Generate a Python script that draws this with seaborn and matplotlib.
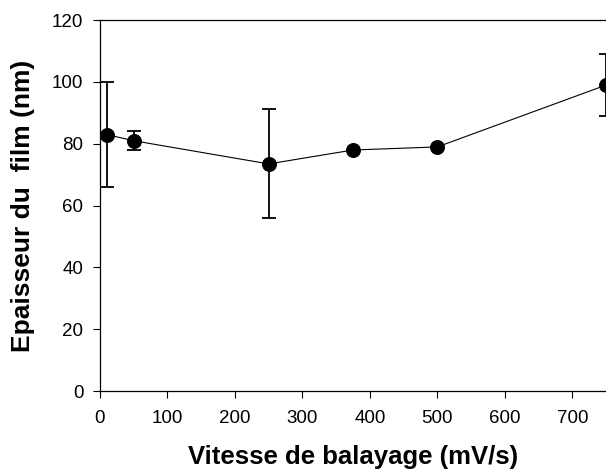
import matplotlib
matplotlib.use("Agg")
import matplotlib.pyplot as plt
import seaborn as sns
import pandas as pd

# Data
scan_rate = [10, 50, 250, 375, 500, 750]
thickness = [83, 81, 73.5, 78, 79, 99]
err_low = [17, 3, 17.5, 0, 0, 10]
err_high = [17, 3, 17.7, 0, 0, 10]
x_ticks = [0, 100, 200, 300, 400, 500, 600, 700]
y_ticks = [0, 20, 40, 60, 80, 100, 120]

sns.set_style("ticks")
plt.rcParams['font.family'] = ['Liberation Sans', 'DejaVu Sans']
plt.rcParams['text.color'] = 'black'
plt.rcParams['axes.labelcolor'] = 'black'

df = pd.DataFrame({"x": scan_rate, "y": thickness})

fig = plt.figure(figsize=(6.06, 4.69), dpi=100)
ax = fig.add_axes([0.165, 0.166, 0.835, 0.791])

ax.errorbar(scan_rate, thickness, yerr=[err_low, err_high], fmt="none",
            ecolor="black", elinewidth=1.3, capsize=5, capthick=1.3, zorder=2)
sns.lineplot(data=df, x="x", y="y", ax=ax, color="black", linewidth=0.8,
             marker="o", markersize=10, markeredgecolor="black",
             markerfacecolor="black", zorder=3)

ax.set_xlim(0, 750)
ax.set_ylim(0, 120)
ax.set_xticks(x_ticks)
ax.set_yticks(y_ticks)
ax.tick_params(axis="both", direction="out", length=5, width=0.8,
               labelsize=13.5, colors="black")
ax.tick_params(axis="x", pad=8.5)
ax.tick_params(axis="y", pad=7)
for s in ["left", "bottom", "top"]:
    ax.spines[s].set_color("black")
    ax.spines[s].set_linewidth(0.9)
ax.spines["right"].set_visible(False)
ax.spines["top"].set_visible(True)

ax.set_xlabel("Vitesse de balayage (mV/s)", fontsize=18.5, fontweight="bold",
              labelpad=13, color="black")
ax.set_ylabel("Epaisseur du  film (nm)", fontsize=19, fontweight="bold",
              labelpad=12, color="black")

fig.savefig("out.png", dpi=100)
